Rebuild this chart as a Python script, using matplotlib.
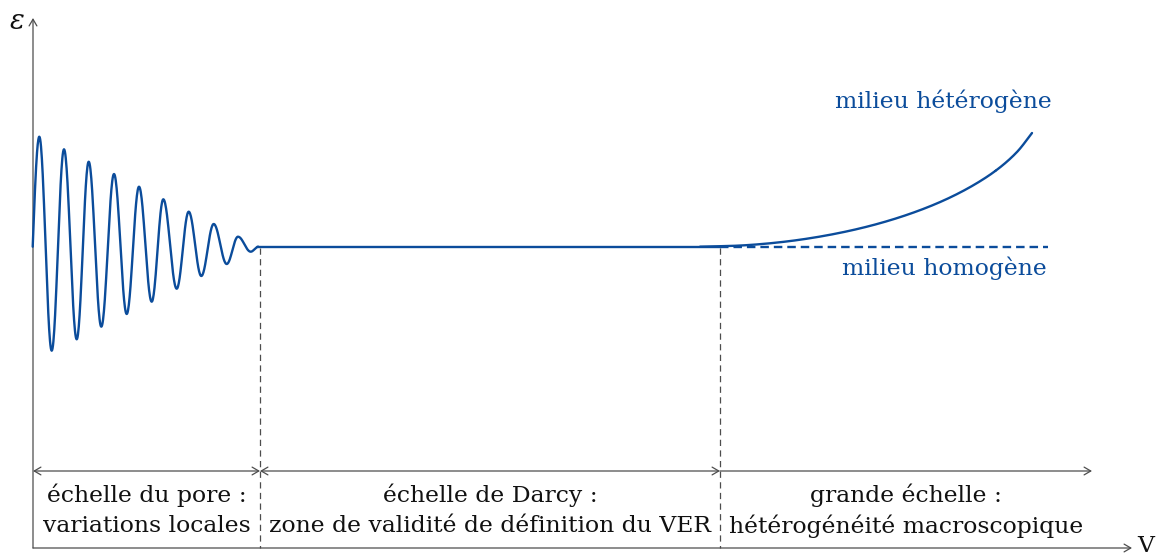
import numpy as np
import matplotlib
matplotlib.use("Agg")
import matplotlib.pyplot as plt
from matplotlib.patches import FancyArrowPatch

# ---- data (in picture coordinates) ----
# oscillation extrema (pore scale): x positions and epsilon values
osc_x = [32.7, 39.3, 51.7, 64.0, 76.7, 88.7, 101.3, 114.0, 126.7, 139.0, 151.7,
         163.3, 176.7, 188.7, 201.3, 213.7, 226.7, 238.0, 250.7, 258.3]
osc_y = [246.7, 136.7, 350.7, 149.3, 339.3, 161.7, 326.7, 174.0, 314.0, 186.7, 301.7,
         199.3, 288.7, 211.7, 276.0, 224.0, 264.0, 236.7, 251.7, 246.7]
# flat (Darcy) level
flat_x = [258.3, 720.0]
flat_y = [246.7, 246.7]
# heterogeneous branch
het_x = [700, 744.6, 788.1, 829.9, 869.6, 906.5, 940.2, 970.1, 995.8, 1016.5, 1032]
het_y = [246.7, 245.3, 241.3, 234.8, 226.0, 215.0, 202.0, 187.1, 170.6, 152.5, 133.0]
# homogeneous branch
hom_x = [720, 1048]
hom_y = [246.7, 246.7]
# scale boundaries
bounds_x = [33, 260, 720, 1092]
zone_lines1 = ["échelle du pore :", "échelle de Darcy :", "grande échelle :"]
zone_lines2 = ["variations locales", "zone de validité de définition du VER",
               "hétérogénéité macroscopique"]
label_het = "milieu hétérogène"
label_hom = "milieu homogène"

BLUE = "#0b4c9b"
GRAY = "#4d4d4d"
FONT = "DejaVu Serif"
FS = 16.9

plt.rcParams["mathtext.fontset"] = "dejavuserif"

fig = plt.figure(figsize=(11.58, 5.59), dpi=100)
ax = fig.add_axes([0, 0, 1, 1])
ax.set_xlim(0, 1158)
ax.set_ylim(559, 0)
ax.axis("off")

# build oscillating curve: half-wave shapes between consecutive extrema
xs, ys = [], []
for i in range(len(osc_x) - 1):
    t = np.linspace(0, 1, 30)
    x0, x1, y0, y1 = osc_x[i], osc_x[i + 1], osc_y[i], osc_y[i + 1]
    if i == 0:
        s = np.sin(np.pi / 2 * t)
    else:
        s = (1 - np.cos(np.pi * t)) / 2
    xs.extend(x0 + (x1 - x0) * t)
    ys.extend(y0 + (y1 - y0) * s)
ax.plot(xs, ys, color=BLUE, lw=1.7, solid_capstyle="round")
ax.plot(flat_x, flat_y, color=BLUE, lw=1.7)


def catmull_rom(px, py, n=20):
    px = np.asarray(px, float)
    py = np.asarray(py, float)
    P = np.column_stack([px, py])
    P = np.vstack([2 * P[0] - P[1], P, 2 * P[-1] - P[-2]])
    out = []
    for i in range(1, len(P) - 2):
        p0, p1, p2, p3 = P[i - 1], P[i], P[i + 1], P[i + 2]
        t = np.linspace(0, 1, n)[:, None]
        seg = 0.5 * ((2 * p1) + (-p0 + p2) * t + (2 * p0 - 5 * p1 + 4 * p2 - p3) * t ** 2
                     + (-p0 + 3 * p1 - 3 * p2 + p3) * t ** 3)
        out.append(seg)
    out = np.vstack(out)
    return out[:, 0], out[:, 1]


hx, hy = catmull_rom(het_x, het_y)
ax.plot(hx, hy, color=BLUE, lw=1.7, solid_capstyle="round")
ax.plot(hom_x, hom_y, color=BLUE, lw=1.7, dashes=(3.6, 2.1))


# axes with arrows
def arrow(p0, p1, style):
    a = FancyArrowPatch(p0, p1, arrowstyle=style, color=GRAY, lw=0.9,
                        mutation_scale=8, shrinkA=0, shrinkB=0)
    ax.add_patch(a)


ST = "head_length=0.6,head_width=0.35"
arrow((33, 548), (33, 18), "->," + ST)
arrow((33, 548), (1132, 548), "->," + ST)

# zone arrows
arrow((bounds_x[0], 471), (bounds_x[1], 471), "<->," + ST)
arrow((bounds_x[1], 471), (bounds_x[2], 471), "<->," + ST)
arrow((bounds_x[2], 471), (bounds_x[3], 471), "->," + ST)

# vertical dashed separators
for xb in bounds_x[1:3]:
    ax.plot([xb, xb], [248, 548], color=GRAY, lw=0.9, dashes=(5, 3.5))

# zone labels
for i in range(3):
    cx = (bounds_x[i] + bounds_x[i + 1]) / 2
    ax.text(cx, 495, zone_lines1[i], ha="center", va="center", fontsize=FS,
            family=FONT, color="#111111")
    ax.text(cx, 526, zone_lines2[i], ha="center", va="center", fontsize=FS,
            family=FONT, color="#111111")

ax.text(1052, 101, label_het, ha="right", va="center", fontsize=FS, family=FONT, color=BLUE)
ax.text(1047, 268, label_hom, ha="right", va="center", fontsize=FS, family=FONT, color=BLUE)

ax.text(17, 21, r"$\varepsilon$", ha="center", va="center", fontsize=FS + 3, color="#111111")
ax.text(1146, 546, "V", ha="center", va="center", fontsize=FS, family=FONT, color="#111111")

fig.savefig("out.png", dpi=100)
